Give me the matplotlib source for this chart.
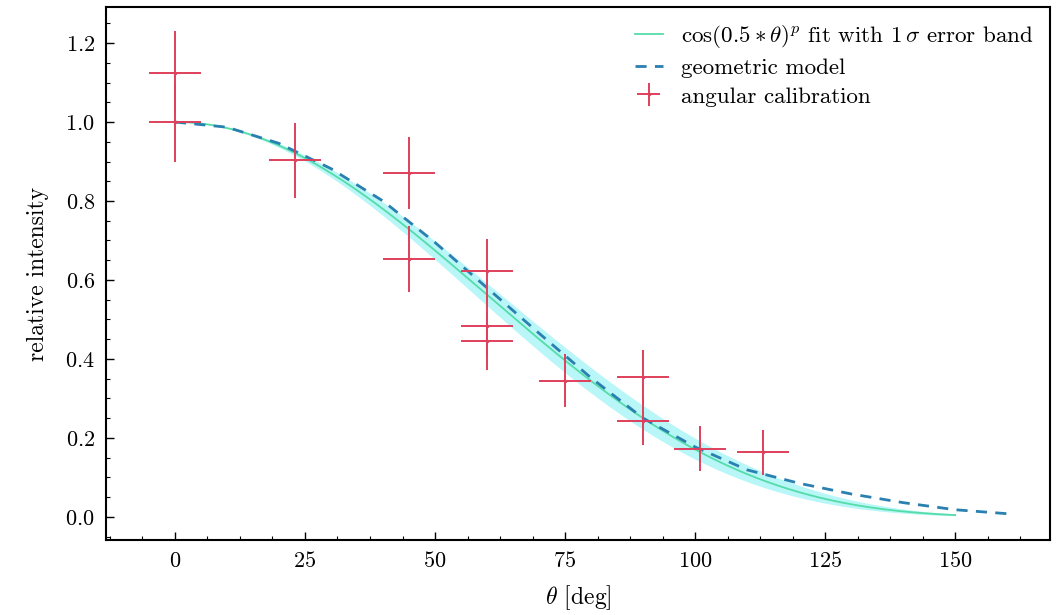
import numpy as np
import matplotlib
matplotlib.use("Agg")
from matplotlib import pyplot as plt
from matplotlib.ticker import AutoMinorLocator

# measured angular calibration points
theta = [0, 0, 23, 45, 45, 60, 60, 60, 75, 90, 90, 101, 113]
intensity = [1.125, 1.0, 0.903, 0.871, 0.653, 0.623, 0.483, 0.445, 0.345, 0.355, 0.243, 0.172, 0.163]
intensity_err = [0.105, 0.10, 0.095, 0.092, 0.083, 0.08, 0.077, 0.073, 0.067, 0.068, 0.06, 0.057, 0.057]
theta_err = [5] * len(theta)

# fit result cos(0.5*theta)^p
p_fit = 4.0
p_err = 0.35
fit_range = [0, 150]

geo_theta = [0, 10, 20, 30, 40, 50, 60, 70, 80, 90, 100, 110, 120, 130, 140, 150, 160]
geo_val = [1.0, 0.987, 0.946, 0.882, 0.80, 0.695, 0.58, 0.465, 0.352, 0.25, 0.177,
           0.119, 0.085, 0.058, 0.036, 0.018, 0.008]

plt.rcParams['font.family'] = 'serif'
plt.rcParams['font.serif'] = ['cmr10']
plt.rcParams['mathtext.fontset'] = 'cm'
plt.rcParams['axes.formatter.use_mathtext'] = True
plt.rcParams['axes.linewidth'] = 1.5

fig = plt.figure(figsize=(10.56, 6.15), dpi=100)
ax = fig.add_axes([0.1004, 0.122, 0.894, 0.8666])

th = np.linspace(fit_range[0], fit_range[1], 300)
c = np.cos(np.radians(0.5 * th))
ax.fill_between(th, c ** (p_fit + p_err), c ** (p_fit - p_err),
                color='#00e0e8', alpha=0.28, lw=0)
ax.plot(th, c ** p_fit, color='#55dca8', lw=1.3,
        label=r'$\cos(0.5*\theta)^p$ fit with $1\,\sigma$ error band')
ax.plot(geo_theta, geo_val, '--', color='#2a80b0', lw=2.0, dashes=(4, 3),
        label='geometric model')
ax.errorbar(theta, intensity, xerr=theta_err, yerr=intensity_err, fmt='.',
            ms=3, color='#e0405c', elinewidth=1.4, capsize=0,
            label='angular calibration')

ax.set_xlabel(r'$\theta$ [deg]', fontsize=17, labelpad=9)
ax.set_ylabel('relative intensity', fontsize=17, labelpad=12)
ax.set_xticks([0, 25, 50, 75, 100, 125, 150])
ax.set_yticks([0.0, 0.2, 0.4, 0.6, 0.8, 1.0, 1.2])
ax.xaxis.set_minor_locator(AutoMinorLocator(4))
ax.yaxis.set_minor_locator(AutoMinorLocator(4))
ax.tick_params(which='both', direction='in', labelsize=16, pad=8)
ax.tick_params(which='major', length=6, width=1.0)
ax.tick_params(which='minor', length=3, width=0.8)

ax.legend(loc='upper right', frameon=False, fontsize=16.6, handlelength=1.2,
          borderaxespad=0.3, labelspacing=0.35)

plt.savefig('out.png', dpi=100)
